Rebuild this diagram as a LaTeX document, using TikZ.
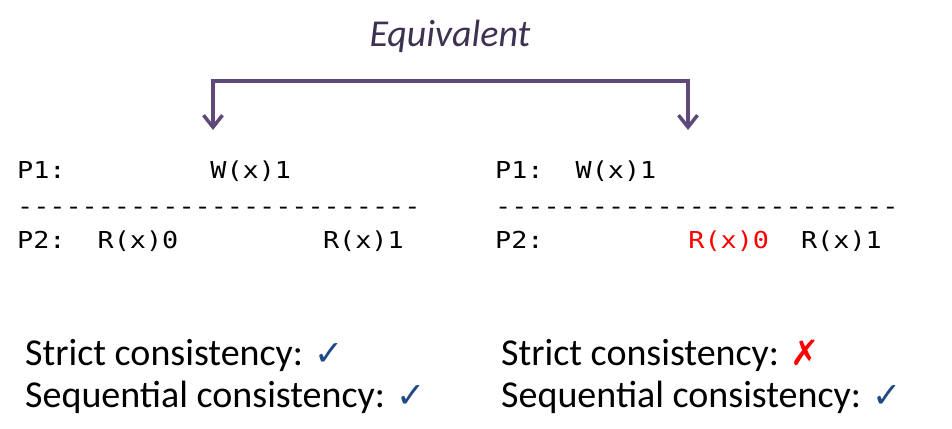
\documentclass[tikz,border=0pt]{standalone}
\usepackage{fontspec}
\setmainfont{Carlito}
\newfontfamily\monof[FakeStretch=1.15]{DejaVu Sans Mono}
\newfontfamily\symf{DejaVu Sans}
\usetikzlibrary{arrows.meta}
\definecolor{eqtext}{HTML}{3F3151}
\definecolor{eqarrow}{HTML}{5F497A}
\definecolor{okblue}{HTML}{1F4A84}
\definecolor{badred}{HTML}{FF0000}
\tikzset{
  codetok/.style={anchor=base west, inner sep=0pt, font=\monof\fontsize{23.3}{28}\selectfont},
  bigtext/.style={anchor=base west, inner sep=0pt, font=\fontsize{38}{45}\selectfont},
  eqlabel/.style={anchor=base, inner sep=0pt, text=eqtext, font=\itshape\fontsize{38}{45}\selectfont},
  eqarr/.style={draw=eqarrow, line width=3.5pt, line join=miter,
    {Straight Barb[length=12pt,width=19pt,line width=3.5pt]}-{Straight Barb[length=12pt,width=19pt,line width=3.5pt]}}
}
\newcommand{\okmark}{{\symf\fontsize{35}{40}\selectfont\color{okblue}✓}}
\newcommand{\badmark}{{\symf\fontsize{35}{40}\selectfont\color{badred}✗}}
\begin{document}
\begin{tikzpicture}[x=1pt,y=-1pt]
\useasboundingbox (0,0) rectangle (952,428);
\def\adv{16.1}
% Equivalent label and arrow
\node[eqlabel] (eq) at (450,47) {Equivalent};
\coordinate (lt) at (213,130);
\coordinate (lc) at (213,81);
\coordinate (rc) at (688,81);
\coordinate (rt) at (688,130);
\draw[eqarr] (lt) -- (lc) -- (rc) -- (rt);
% left history
\node[codetok] (lp1) at (17,178) {P1:};
\node[codetok] (lw) at ({17+12*\adv},178) {W(x)1};
\node[codetok] (ldash) at (17,214) {-------------------------};
\node[codetok] (lp2) at (17,248) {P2:};
\node[codetok] (lr0) at ({17+5*\adv},248) {R(x)0};
\node[codetok] (lr1) at ({17+19*\adv},248) {R(x)1};
% right history
\node[codetok] (rp1) at (495,178) {P1:};
\node[codetok] (rw) at ({495+5*\adv},178) {W(x)1};
\node[codetok] (rdash) at (495,214) {-------------------------};
\node[codetok] (rp2) at (495,248) {P2:};
\node[codetok, text=badred] (rr0) at ({495+12*\adv},248) {R(x)0};
\node[codetok] (rr1) at ({495+19*\adv},248) {R(x)1};
% verdicts
\node[bigtext] (ls) at (25,365) {Strict consistency: \okmark};
\node[bigtext] (lq) at (25,407) {Sequential consistency: \okmark};
\node[bigtext] (rs) at (501,365) {Strict consistency: \badmark};
\node[bigtext] (rq) at (501,407) {Sequential consistency: \okmark};
\end{tikzpicture}
\end{document}
